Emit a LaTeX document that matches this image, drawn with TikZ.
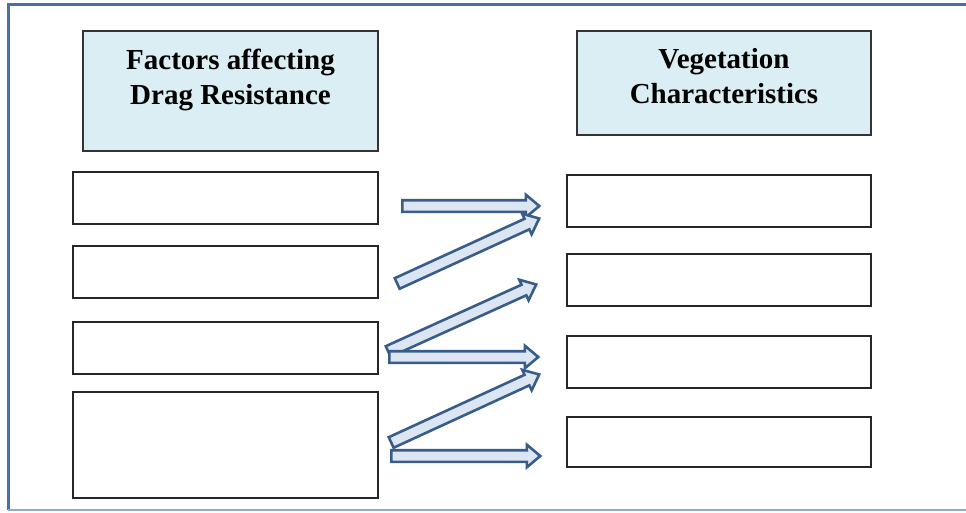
\documentclass[tikz,border=0pt]{standalone}
\usepackage{fontspec}
\setmainfont{Liberation Serif}
\usetikzlibrary{shapes.arrows,calc}

\definecolor{headfill}{HTML}{DAEEF3}
\definecolor{arrowfill}{HTML}{DCE6F2}
\definecolor{arrowline}{HTML}{385D8A}
\definecolor{frameline}{HTML}{4A6FA5}

\tikzset{
  headbox/.style={draw=black!80,fill=headfill,line width=1.2pt,inner sep=0pt},
  headtext/.style={font=\fontsize{29}{35}\selectfont\bfseries,align=center,anchor=north,inner sep=0pt},
  itembox/.style={draw=black!85,line width=1.2pt,inner sep=0pt,minimum width=305},
  blockarrow/.style={single arrow,draw=arrowline,fill=arrowfill,line width=2.6pt,
    inner sep=4.5pt,single arrow head extend=5.5pt,single arrow tip angle=80,anchor=tail}
}
\newcommand{\blockarrow}[2]{%
  \path let \p1=($(#2)-(#1)$), \n1={atan2(\y1,\x1)}, \n2={veclen(\x1,\y1)} in
    node[blockarrow,minimum height=\n2,rotate=\n1] at (#1) {};}

\begin{document}
\begin{tikzpicture}[x=1pt,y=-1pt]
\useasboundingbox (0,0) rectangle (966,512);

% frame
\draw[frameline,line width=3pt] (966,4) -- (8,4) -- (8,510);
\draw[frameline!60,line width=2pt] (8,510) -- (966,510);

% headers
\node[headbox,minimum width=295,minimum height=120,
  label={[headtext,yshift=-18pt]north:Factors affecting\\Drag Resistance}] (factorhead) at (230.5,91) {};
\node[headbox,minimum width=294,minimum height=104,
  label={[headtext,yshift=-18pt]north:Vegetation\\Characteristics}] (veghead) at (724,83) {};

% factor boxes
\node[itembox,minimum height=52] (f1) at (225.5,198) {};
\node[itembox,minimum height=52] (f2) at (225.5,272) {};
\node[itembox,minimum height=52] (f3) at (225.5,348) {};
\node[itembox,minimum height=106] (f4) at (225.5,445) {};

% vegetation boxes
\node[itembox,minimum width=304,minimum height=52] (v1) at (719,201) {};
\node[itembox,minimum width=304,minimum height=52] (v2) at (719,280) {};
\node[itembox,minimum width=304,minimum height=52] (v3) at (719,362) {};
\node[itembox,minimum width=304,minimum height=50] (v4) at (719,442) {};

% arrow ends
\coordinate (a1s) at (401,206); \coordinate (a1e) at (538,206);
\coordinate (a2s) at (396,284); \coordinate (a2e) at (538,219);
\coordinate (a3s) at (387,352); \coordinate (a3e) at (535,285);
\coordinate (a4s) at (388,357); \coordinate (a4e) at (537,357);
\coordinate (a5s) at (390,443); \coordinate (a5e) at (538,375);
\coordinate (a6s) at (390,456); \coordinate (a6e) at (539,456);

\blockarrow{a1s}{a1e}
\blockarrow{a2s}{a2e}
\blockarrow{a3s}{a3e}
\blockarrow{a4s}{a4e}
\blockarrow{a5s}{a5e}
\blockarrow{a6s}{a6e}
\end{tikzpicture}
\end{document}
